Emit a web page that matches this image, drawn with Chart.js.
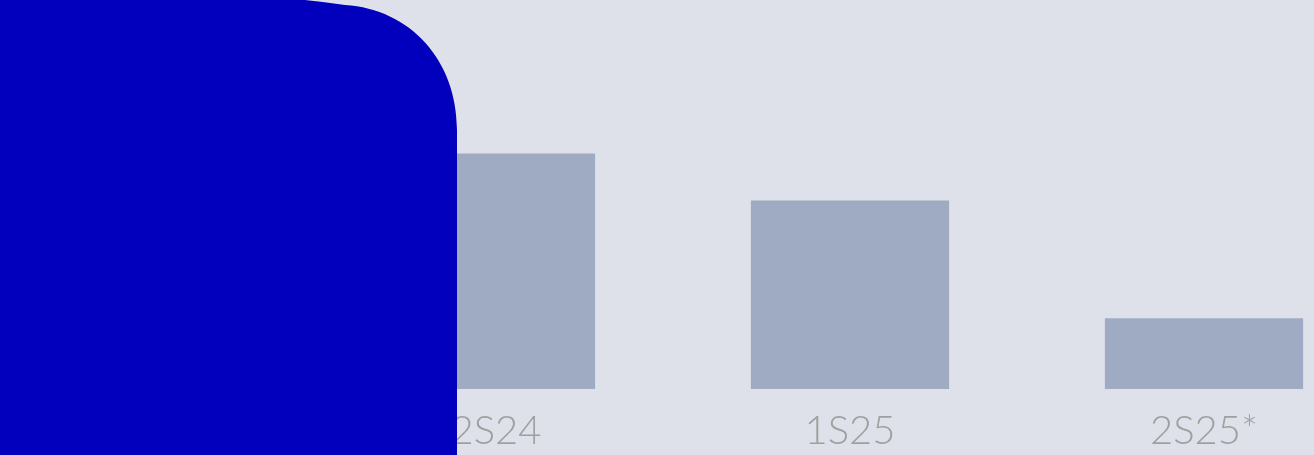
<!DOCTYPE html>
<html>
<head>
<meta charset="utf-8">
<script src="https://cdn.jsdelivr.net/npm/chart.js@4"></script>
<style>
  html, body { margin: 0; padding: 0; width: 1314px; height: 455px; overflow: hidden; background: #DEE1E9; }
  #wrap { position: absolute; left: -35px; top: 0; width: 1416px; height: 455px; }
  #blob { position: absolute; left: 0; top: 0; width: 460px; height: 455px; }
</style>
</head>
<body>
<div id="wrap"><canvas id="c"></canvas></div>
<svg id="blob" viewBox="0 0 460 455" xmlns="http://www.w3.org/2000/svg">
  <path d="M0,0 L305,0 Q325,2 345,5 C410,9 457,60 457,130 L457,455 L0,455 Z" fill="#0300BD"/>
</svg>
<script>
const categories = ["1S24", "2S24", "1S25", "2S25*"];
const values = [12, 10, 8, 3];

new Chart(document.getElementById('c'), {
  type: 'bar',
  data: {
    labels: categories,
    datasets: [{
      data: values,
      backgroundColor: '#9EABC3',
      borderWidth: 0,
      barPercentage: 0.7,
      categoryPercentage: 0.8
    }]
  },
  options: {
    responsive: true,
    maintainAspectRatio: false,
    animation: false,
    layout: { padding: { top: 12, left: 0, right: 0, bottom: -18 } },
    plugins: { legend: { display: false }, tooltip: { enabled: false } },
    scales: {
      x: {
        grid: { display: false, drawTicks: false },
        border: { display: false },
        ticks: {
          color: '#A0A0A0',
          padding: 18,
          font: { family: 'Lato', size: 40, weight: '300' }
        }
      },
      y: {
        display: false,
        min: 0,
        max: 16
      }
    }
  }
});
</script>
</body>
</html>
